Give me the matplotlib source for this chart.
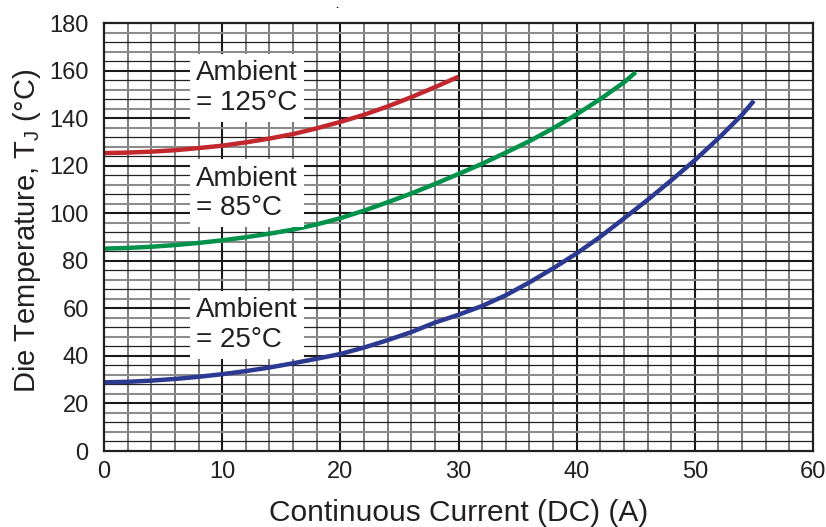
import matplotlib
matplotlib.use("Agg")
import matplotlib.pyplot as plt
import numpy as np

plt.rcParams['font.family'] = ['Liberation Sans', 'DejaVu Sans']
plt.rcParams['mathtext.fontset'] = 'custom'
plt.rcParams['mathtext.rm'] = 'Liberation Sans'
plt.rcParams['mathtext.it'] = 'Liberation Sans'

# ---- data ----
x_125 = [0, 2, 4, 6, 8, 10, 12, 14, 16, 18, 20, 22, 24, 26, 28, 30]
t_125 = [125.3, 125.5, 125.9, 126.5, 127.4, 128.4, 129.8, 131.4, 133.3, 135.7,
         138.4, 141.4, 144.9, 148.8, 153.0, 157.4]

x_85 = [0, 2, 4, 6, 8, 10, 12, 14, 16, 18, 20, 22, 24, 26, 28, 30,
        32, 34, 36, 38, 40, 42, 44, 45]
t_85 = [85.1, 85.4, 85.9, 86.6, 87.5, 88.6, 89.9, 91.4, 93.1, 95.3, 97.9,
        101.1, 104.6, 108.3, 112.3, 116.5, 120.8, 125.5, 130.3, 135.7, 141.6,
        148.0, 155.0, 159.3]

x_25 = [0, 2, 4, 6, 8, 10, 12, 14, 16, 18, 20, 22, 24, 26, 28, 30, 32, 34,
        36, 38, 40, 42, 44, 46, 48, 50, 52, 54, 55]
t_25 = [28.9, 29.1, 29.6, 30.3, 31.2, 32.3, 33.6, 35.1, 36.9, 38.8, 40.8,
        43.5, 46.6, 50.0, 54.0, 57.3, 61.0, 65.5, 70.9, 76.8, 83.1, 90.1,
        97.8, 105.6, 113.8, 122.3, 131.5, 141.4, 147.3]

labels = ['Ambient\n= 125°C', 'Ambient\n= 85°C', 'Ambient\n= 25°C']
label_x = [7.8, 7.8, 7.8]
label_y = [143.4, 99.2, 43.9]

x_ticks = [0, 10, 20, 30, 40, 50, 60]
y_ticks = [0, 20, 40, 60, 80, 100, 120, 140, 160, 180]

colors = ['#c1272d', '#00924a', '#2b3990']

# ---- figure ----
fig = plt.figure(figsize=(8.26, 5.27), dpi=100)
W, H = 826, 527
ax = fig.add_axes([104 / W, 1 - 451 / H, (813 - 104) / W, (451 - 23) / H])
ax.set_xlim(0, 60)
ax.set_ylim(0, 180)

# grid
for v in np.arange(2, 60, 2):
    if v % 10 == 0:
        ax.axvline(v, color='#1a1a1a', lw=1.5, zorder=1)
    else:
        ax.axvline(v, color='#555555', lw=1.1, zorder=1)
for v in np.arange(4, 180, 4):
    if v % 20 == 0:
        ax.axhline(v, color='#1a1a1a', lw=1.5, zorder=1)
    elif (v // 4) % 2 == 1:
        ax.axhline(v, color='#222222', lw=0.9, zorder=1)
    else:
        ax.axhline(v, color='#8c8c8c', lw=1.5, zorder=1)

for xs, ts, c in zip([x_125, x_85, x_25], [t_125, t_85, t_25], colors):
    ax.plot(xs, ts, color=c, lw=3.2, solid_capstyle='butt', zorder=3,
            clip_on=False)

for lab, lx, ly in zip(labels, label_x, label_y):
    ax.text(lx, ly, lab, fontsize=20, ha='left', va='baseline',
            linespacing=1.18, color='#231f20', zorder=4,
            bbox=dict(boxstyle='square,pad=0.22', fc='white', ec='none'))

for s in ax.spines.values():
    s.set_color('#231f20')
    s.set_linewidth(1.6)
    s.set_zorder(5)

ax.set_xticks(x_ticks)
ax.set_yticks(y_ticks)
ax.tick_params(length=0, labelsize=17, colors='#231f20')
ax.tick_params(axis='y', pad=11)
ax.tick_params(axis='x', pad=7)

ax.set_xlabel('Continuous Current (DC) (A)', fontsize=21.5, color='#231f20',
              labelpad=12)
ax.set_ylabel(r'Die Temperature, T$_{\mathregular{J}}$ (°C)', fontsize=21,
              color='#231f20')
ax.yaxis.set_label_coords((43 - 104) / 709, (451 - 231) / 428)

fig.text(337 / W, 1 - 0.5 / H, '.', fontsize=8, fontweight='bold',
         ha='center', va='top', color='#231f20')

fig.savefig('out.png', dpi=100)
